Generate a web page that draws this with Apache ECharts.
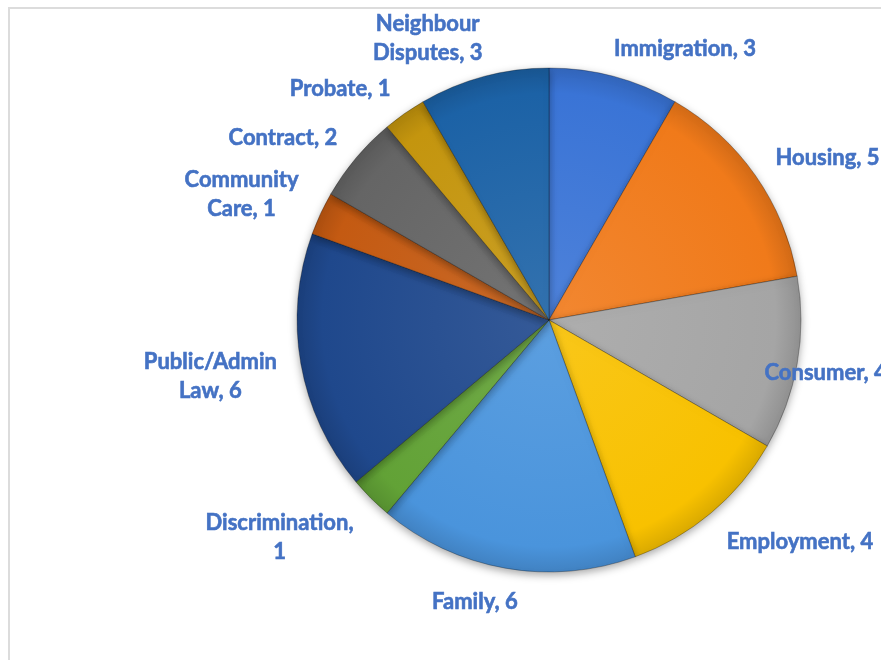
<!DOCTYPE html>
<html><head><meta charset="utf-8">
<script src="https://cdn.jsdelivr.net/npm/echarts@6/dist/echarts.min.js"></script>
<style>
html,body{margin:0;padding:0;background:#fff;}
#wrap{position:relative;width:881px;height:660px;overflow:hidden;}
#frame{position:absolute;left:8px;top:7px;width:1000px;height:1000px;border:2px solid #dcdcdc;box-sizing:border-box;}
#chart{position:absolute;left:0;top:0;width:881px;height:660px;}
</style></head>
<body><div id="wrap"><div id="frame"></div><div id="chart"></div></div>
<script>
var categories = ['Immigration','Housing','Consumer','Employment','Family','Discrimination','Public/Admin\nLaw','Community\nCare','Contract','Probate','Neighbour\nDisputes'];
var values = [3,5,4,4,6,1,6,1,2,1,3];
var colors = ['#3a74d6','#f07a1a','#a5a5a5','#f8c100','#4a94dc','#62a236','#1f488c','#c45a12','#656565','#c4950e','#1c62a6'];
var labelSep = [', ',', ',', ',', ',', ',',\n',', ',', ',', ',', ',', '];

function shade(hex, f){
  var n = parseInt(hex.slice(1),16), r=(n>>16)&255, g=(n>>8)&255, b=n&255;
  function s(c){ return Math.max(0,Math.min(255,Math.round(f>0 ? c+(255-c)*f : c*(1+f)))); }
  return 'rgb('+s(r)+','+s(g)+','+s(b)+')';
}
var CX = 549, CY = 320, R = 252;
var chart = echarts.init(document.getElementById('chart'), null, {renderer:'canvas'});
var data = categories.map(function(c,i){
  return {name:c, value:values[i], itemStyle:{color:{
    type:'radial', x:CX, y:CY, r:R, global:true,
    colorStops:[{offset:0,color:shade(colors[i],0.1)},{offset:0.9,color:colors[i]},{offset:1,color:shade(colors[i],-0.12)}]
  }}};
});
chart.setOption({
  animation:false,
  series:[{
    type:'pie',
    startAngle:90,
    clockwise:true,
    center:[CX,CY],
    radius:R,
    avoidLabelOverlap:false,
    data:data,
    itemStyle:{borderColor:'rgba(0,0,0,0.28)',borderWidth:1,shadowBlur:8,shadowColor:'rgba(0,0,0,0.35)',shadowOffsetY:3},
    label:{
      show:true,position:'outside',bleedMargin:-400,overflow:'none',
      color:'#4472c4',fontFamily:'Lato',fontWeight:'bold',fontSize:22,lineHeight:29,
      textBorderColor:'#4472c4',textBorderWidth:0.6,
      formatter:function(p){return p.name + labelSep[p.dataIndex] + p.value;}
    },
    labelLine:{show:true,length:10,length2:0,lineStyle:{width:0,opacity:0}},
    labelLayout:function(p){
      var pts = p.labelLinePoints; if(!pts) return {};
      var dx = pts[1][0]-pts[0][0], dy = pts[1][1]-pts[0][1];
      var len = Math.sqrt(dx*dx+dy*dy)||1; dx/=len; dy/=len;
      var w = p.labelRect.width, h = p.labelRect.height*0.76, gx = 24, gy = 20;
      var x = pts[0][0] + dx*gx + Math.sign(dx)*Math.min(1,Math.abs(dx)*3.5)*w/2;
      var y = pts[0][1] + dy*gy + Math.sign(dy)*Math.min(1,Math.abs(dy)*1.5)*h/2 + 3;
      var W = chart.getWidth();
      if (x + w/2 > W + 6) x = W + 6 - w/2;
      return {x:x,y:y,align:'center',verticalAlign:'middle'};
    }
  }]
});
</script></body></html>
